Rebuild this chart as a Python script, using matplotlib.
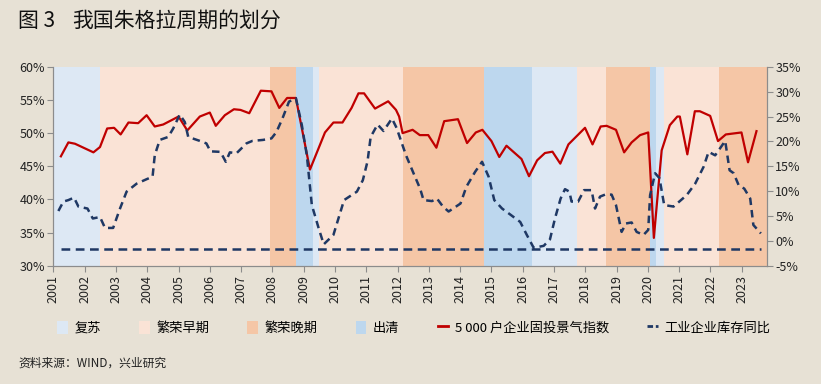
import matplotlib.pyplot as plt
from matplotlib.patches import Patch
from matplotlib.lines import Line2D

plt.rcParams['font.family'] = ['Noto Sans CJK SC', 'DejaVu Sans']

# cycle phases: boundaries (decimal year) and phase of each span
phase_bounds = [2001.0, 2002.5, 2007.93, 2008.76, 2009.3, 2009.5, 2012.17, 2014.75,
                2016.29, 2017.75, 2018.67, 2020.07, 2020.26, 2020.5, 2022.26, 2023.8]
phase_names = ['复苏', '繁荣早期', '繁荣晚期', '出清', '复苏', '繁荣早期', '繁荣晚期', '出清',
               '复苏', '繁荣早期', '繁荣晚期', '出清', '复苏', '繁荣早期', '繁荣晚期']
phase_colors = {'复苏': '#dde8f4', '繁荣早期': '#fae3d6', '繁荣晚期': '#f5c6a6', '出清': '#bdd7ee'}

# 5000 户企业固投景气指数 (left axis, %)
invest_x = [2001.24, 2001.48, 2001.69, 2002.28, 2002.49, 2002.72, 2002.94, 2003.15, 2003.40,
            2003.71, 2003.98, 2004.24, 2004.51, 2005.00, 2005.28, 2005.68, 2006.00, 2006.19,
            2006.48, 2006.77, 2006.98, 2007.26, 2007.63, 2007.97, 2008.22, 2008.47, 2008.75,
            2009.20, 2009.68, 2009.95, 2010.24, 2010.53, 2010.75, 2010.93, 2011.28, 2011.70,
            2011.95, 2012.05, 2012.16, 2012.48, 2012.71, 2012.98, 2013.24, 2013.49, 2013.93,
            2014.22, 2014.50, 2014.71, 2015.00, 2015.25, 2015.48, 2015.96, 2016.20, 2016.46,
            2016.71, 2016.95, 2017.20, 2017.46, 2017.99, 2018.23, 2018.49, 2018.68, 2018.98,
            2019.24, 2019.48, 2019.75, 2020.01, 2020.19, 2020.44, 2020.70, 2020.94, 2021.02,
            2021.26, 2021.50, 2021.66, 2021.99, 2022.24, 2022.49, 2022.99, 2023.20, 2023.47]
invest_y = [46.5, 48.6, 48.4, 47.1, 47.9, 50.7, 50.8, 49.8, 51.6,
            51.5, 52.7, 51.0, 51.3, 52.5, 50.4, 52.5, 53.1, 51.1,
            52.7, 53.6, 53.5, 53.0, 56.4, 56.3, 53.8, 55.3, 55.3,
            44.5, 50.1, 51.6, 51.6, 53.8, 56.0, 56.0, 53.7, 54.8,
            53.5, 52.5, 50.0, 50.5, 49.7, 49.7, 47.8, 51.8, 52.1,
            48.5, 50.1, 50.5, 48.8, 46.4, 48.1, 46.1, 43.5, 45.9,
            47.0, 47.2, 45.4, 48.3, 50.8, 48.3, 51.0, 51.1, 50.5,
            47.1, 48.6, 49.7, 50.1, 34.2, 47.4, 51.2, 52.5, 52.5,
            46.8, 53.3, 53.3, 52.6, 48.8, 49.8, 50.1, 45.6, 50.3]

# 工业企业库存同比 (right axis, %)
stock_x = [2001.16, 2001.32, 2001.48, 2001.66, 2001.80, 2002.09, 2002.26, 2002.49, 2002.65,
           2002.91, 2003.13, 2003.34, 2003.66, 2003.98, 2004.17, 2004.24, 2004.40, 2004.67,
           2004.83, 2005.04, 2005.20, 2005.31, 2005.68, 2005.89, 2006.02, 2006.34, 2006.51,
           2006.64, 2006.85, 2007.17, 2007.36, 2007.70, 2007.97, 2008.13, 2008.32, 2008.53,
           2008.75, 2008.94, 2009.10, 2009.26, 2009.48, 2009.64, 2009.95, 2010.11, 2010.29,
           2010.70, 2010.89, 2011.04, 2011.14, 2011.36, 2011.55, 2011.82, 2011.97, 2012.10,
           2012.27, 2012.51, 2012.72, 2012.83, 2013.10, 2013.26, 2013.45, 2013.63, 2014.01,
           2014.20, 2014.48, 2014.70, 2014.91, 2015.09, 2015.34, 2015.60, 2015.92, 2016.13,
           2016.35, 2016.67, 2016.87, 2017.03, 2017.21, 2017.35, 2017.49, 2017.56, 2017.77,
           2017.96, 2018.20, 2018.31, 2018.47, 2018.63, 2018.84, 2018.98, 2019.16, 2019.30,
           2019.48, 2019.64, 2019.86, 2020.01, 2020.07, 2020.23, 2020.37, 2020.52, 2020.82,
           2021.24, 2021.51, 2021.78, 2021.94, 2022.15, 2022.47, 2022.61, 2022.74, 2022.90,
           2023.08, 2023.27, 2023.37, 2023.61]
stock_y = [6.0, 7.9, 8.2, 8.7, 6.9, 6.5, 4.5, 4.8, 2.6,
           2.6, 6.5, 9.9, 11.5, 12.4, 12.9, 17.2, 20.3, 20.9,
           22.6, 25.4, 23.9, 20.9, 20.1, 19.6, 18.0, 17.9, 15.9,
           17.8, 17.6, 19.6, 20.1, 20.3, 20.6, 21.9, 24.6, 28.0,
           28.7, 23.3, 17.2, 7.2, 2.5, -0.7, 1.2, 4.5, 8.2,
           9.9, 12.2, 16.0, 20.9, 23.4, 22.1, 24.6, 22.7, 20.3,
           17.2, 13.6, 10.5, 8.2, 8.0, 8.5, 6.9, 5.9, 7.5,
           10.9, 13.9, 15.9, 12.9, 8.2, 6.5, 5.3, 3.8, 1.2,
           -1.4, -1.0, 0.3, 4.5, 8.5, 10.4, 9.9, 7.9, 7.9,
           10.2, 10.2, 6.5, 8.9, 9.3, 9.3, 7.2, 1.8, 3.5,
           3.7, 1.8, 1.2, 2.2, 9.2, 13.6, 12.6, 7.2, 6.9,
           9.2, 11.5, 14.9, 17.9, 17.2, 20.1, 14.2, 13.6, 11.2,
           10.5, 8.5, 3.2, 1.5]

# flat dashed reference line on the right axis
baseline_x = [2001.25, 2023.6]
baseline_y = [-1.6, -1.6]

years = list(range(2001, 2024))

bg = '#e7e1d5'
red = '#c00000'
navy = '#1f3864'
grey = '#8c8c8c'

fig = plt.figure(figsize=(8.21, 3.84), dpi=100, facecolor=bg)
ax = fig.add_axes([0.065, 0.308, 0.869, 0.518])
ax.set_facecolor(bg)
ax2 = ax.twinx()

for i, name in enumerate(phase_names):
    ax.axvspan(phase_bounds[i], phase_bounds[i + 1], color=phase_colors[name], lw=0, zorder=0)

ax.plot(invest_x, invest_y, color=red, lw=1.6, zorder=3)
ax2.plot(stock_x, stock_y, color=navy, lw=1.8, ls=(0, (3, 2)), zorder=3)
ax2.plot(baseline_x, baseline_y, color=navy, lw=1.8, ls=(0, (3.5, 2.2)), zorder=3)

ax.set_xlim(2001.0, 2023.8)
ax.set_ylim(30, 60)
ax2.set_ylim(-5, 35)
ax.set_yticks(range(30, 61, 5))
ax.set_yticklabels([f'{v}%' for v in range(30, 61, 5)])
ax2.set_yticks(range(-5, 36, 5))
ax2.set_yticklabels([f'{v}%' for v in range(-5, 36, 5)])
ax.set_xticks(years)
ax.set_xticklabels([str(y) for y in years], rotation=90)

for a in (ax, ax2):
    a.spines['top'].set_visible(False)
    for s in ('left', 'right', 'bottom'):
        a.spines[s].set_color(grey)
        a.spines[s].set_linewidth(0.8)
    a.tick_params(axis='both', colors=grey, labelcolor='#222222', labelsize=9,
                  length=4, width=0.8, direction='out')
ax.tick_params(axis='y', pad=2)
ax2.tick_params(axis='y', pad=2)
ax.tick_params(axis='x', pad=3)

handles = [
    Patch(facecolor=phase_colors['复苏'], edgecolor='none'),
    Patch(facecolor=phase_colors['繁荣早期'], edgecolor='none'),
    Patch(facecolor=phase_colors['繁荣晚期'], edgecolor='none'),
    Patch(facecolor=phase_colors['出清'], edgecolor='none'),
    Line2D([0], [0], color=red, lw=2),
    Line2D([0], [0], color=navy, lw=2, ls=(0, (2, 1))),
]
labels = ['复苏', '繁荣早期', '繁荣晚期', '出清', '5 000 户企业固投景气指数', '工业企业库存同比']
fig.legend(handles, labels, loc='center left', bbox_to_anchor=(0.055, 0.146), ncol=6,
           frameon=False, fontsize=9.5, handlelength=0.8, handleheight=1.1,
           handletextpad=0.5, columnspacing=2.9)

fig.text(0.022, 0.945, '图 3', fontsize=15, va='center', color='#111111')
fig.text(0.088, 0.945, '我国朱格拉周期的划分', fontsize=15, va='center', color='#111111')
fig.text(0.022, 0.055, '资料来源：WIND，兴业研究', fontsize=8.5, va='center', color='#222222')

fig.savefig('out.png', dpi=100, facecolor=bg)
